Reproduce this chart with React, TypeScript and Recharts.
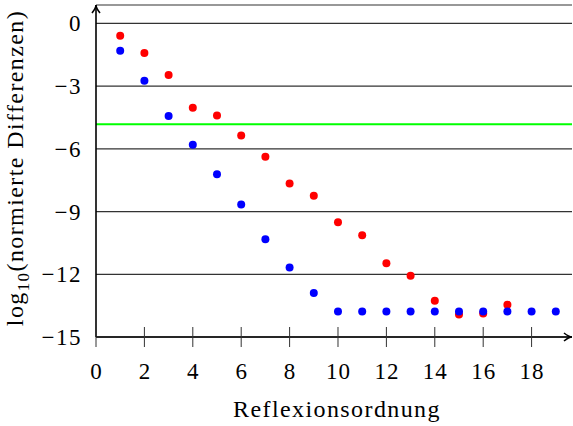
import React from "react";
import { ScatterChart, Scatter, XAxis, YAxis, CartesianGrid, ReferenceLine } from "recharts";

const orders = [1, 2, 3, 4, 5, 6, 7, 8, 9, 10, 11, 12, 13, 14, 15, 16, 17, 18, 19];
const blueValues = [-1.31, -2.74, -4.43, -5.8, -7.21, -8.66, -10.32, -11.67, -12.89, -13.78, -13.78, -13.78, -13.78, -13.78, -13.78, -13.78, -13.78, -13.78, -13.78];
const redValues = [-0.59, -1.42, -2.47, -4.04, -4.4, -5.36, -6.38, -7.66, -8.24, -9.51, -10.13, -11.47, -12.07, -13.27, -13.92, -13.88, -13.46];
const thresholdValue = -4.82;
const xTicks = [0, 2, 4, 6, 8, 10, 12, 14, 16, 18];
const yTicks = [-15, -12, -9, -6, -3, 0];
const xDomain = [0, 19.67];
const yDomain = [-15, 0.88];

const blueData = blueValues.map((v, i) => ({ x: orders[i], y: v }));
const redData = redValues.map((v, i) => ({ x: orders[i], y: v }));

const FONT = "Liberation Serif";

const fmt = (v: number) => (v < 0 ? "\u2212" + Math.abs(v) : String(v));

const Dot = (color: string) => (props: any) => (
  <circle cx={props.cx} cy={props.cy} r={4} fill={color} />
);

const XTick = (props: any) => {
  const { x, y, payload } = props;
  return (
    <g>
      <line x1={x} y1={y - 10} x2={x} y2={y + 10} stroke="#333" strokeWidth={1} />
      <text x={x + 0.5} y={y + 42} textAnchor="middle" fontFamily={FONT} fontSize={23} letterSpacing={1} fill="#000">
        {payload.value}
      </text>
    </g>
  );
};

const YTick = (props: any) => {
  const { x, y, payload } = props;
  return (
    <text x={x - 14} y={y} dy="0.35em" textAnchor="end" fontFamily={FONT} fontSize={23} letterSpacing={1.5} fill="#000">
      {fmt(payload.value)}
    </text>
  );
};

// axis line with a small arrow head at its end
const ArrowLine = (props: any) => {
  const { x1, y1, x2, y2 } = props;
  const ang = Math.atan2(y2 - y1, x2 - x1);
  const len = 8;
  const w = 4;
  const bx = x2 - len * Math.cos(ang);
  const by = y2 - len * Math.sin(ang);
  const px = -Math.sin(ang) * w;
  const py = Math.cos(ang) * w;
  const qx = x2 - 3 * Math.cos(ang);
  const qy = y2 - 3 * Math.sin(ang);
  return (
    <g>
      <line x1={x1} y1={y1} x2={x2} y2={y2} stroke="#000" strokeWidth={1.6} />
      <path
        d={`M${bx + px},${by + py} Q${qx},${qy} ${x2},${y2} Q${qx},${qy} ${bx - px},${by - py}`}
        fill="none"
        stroke="#000"
        strokeWidth={1.6}
      />
    </g>
  );
};

const YLabel = (props: any) => {
  const vb = props.viewBox || { x: 0, y: 5, width: 96, height: 332 };
  const cx = 23;
  const cy = vb.y + vb.height / 2 - 3;
  return (
    <text
      x={cx}
      y={cy}
      transform={`rotate(-90, ${cx}, ${cy})`}
      textAnchor="middle"
      fontFamily={FONT}
      fontSize={24}
      letterSpacing={1.4}
      fill="#000"
    >
      log
      <tspan fontSize={17} dy={6}>10</tspan>
      <tspan dy={-6}>(normierte Differenzen)</tspan>
    </text>
  );
};

const XLabel = (props: any) => {
  const vb = props.viewBox || { x: 96, y: 337, width: 476, height: 89 };
  return (
    <text
      x={vb.x + vb.width / 2 + 3}
      y={417}
      textAnchor="middle"
      fontFamily={FONT}
      fontSize={24}
      letterSpacing={1.4}
      fill="#000"
    >
      Reflexionsordnung
    </text>
  );
};

export default function App() {
  return (
    <div style={{ position: "absolute", left: 0, top: 0, background: "#fff" }}>
      <ScatterChart width={573} height={426} margin={{ top: 5, right: 1, bottom: 0, left: 0 }}>
        <CartesianGrid horizontal vertical={false} stroke="#333" strokeWidth={1.2} />
        <XAxis
          type="number"
          dataKey="x"
          domain={xDomain}
          ticks={xTicks}
          allowDataOverflow
          axisLine={false}
          tickLine={false}
          tickSize={0}
          tickMargin={0}
          height={89}
          tick={<XTick />}
          label={<XLabel />}
        />
        <YAxis
          type="number"
          dataKey="y"
          domain={yDomain}
          ticks={yTicks}
          allowDataOverflow
          axisLine={false}
          tickLine={false}
          tickSize={0}
          tickMargin={0}
          width={96}
          tick={<YTick />}
          label={<YLabel />}
        />
        <ReferenceLine y={thresholdValue} stroke="#00ff00" strokeWidth={2} />
        <ReferenceLine
          segment={[{ x: xDomain[0], y: yDomain[0] }, { x: xDomain[1], y: yDomain[0] }]}
          ifOverflow="visible"
          shape={<ArrowLine />}
        />
        <ReferenceLine
          segment={[{ x: xDomain[0], y: yDomain[0] }, { x: xDomain[0], y: yDomain[1] }]}
          ifOverflow="visible"
          shape={<ArrowLine />}
        />
        <Scatter data={redData} shape={Dot("#ff0000")} isAnimationActive={false} />
        <Scatter data={blueData} shape={Dot("#0000ff")} isAnimationActive={false} />
      </ScatterChart>
    </div>
  );
}
